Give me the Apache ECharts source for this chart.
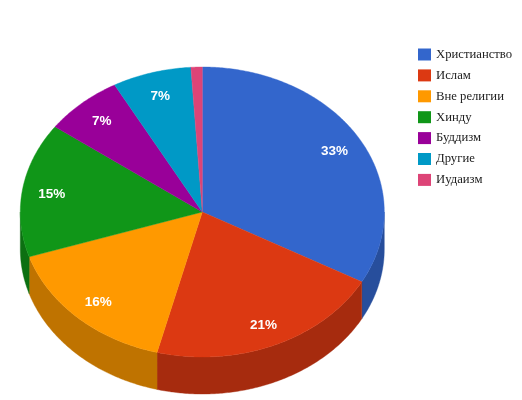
<!DOCTYPE html>
<html><head><meta charset="utf-8">
<style>html,body{margin:0;padding:0;background:#fff}#c{width:522px;height:400px}</style>
<script src="https://cdn.jsdelivr.net/npm/echarts@6/dist/echarts.min.js"></script>
</head><body><div id="c"></div>
<script>
const categories = ['Христианство','Ислам','Вне религии','Хинду','Буддизм','Другие','Иудаизм'];
const values = [33,21,16,15,7,7,1];
const colors = ['#3366cc','#dc3912','#ff9900','#109618','#990099','#0099c6','#dd4477'];
const sideColors = ['#274e9c','#a62b0e','#bf7300','#0c7012','#730073','#007395','#a63359'];

const CX = 202.3, CY = 212, RX = 182, RY = 145, DEPTH = 37, LABEL_R = 0.84, MIN_LABEL = 2;
const total = values.reduce((a,b)=>a+b,0);
const pt = (a, dy=0, k=1) => [CX + RX*k*Math.sin(a), CY - RY*k*Math.cos(a) + dy];
const arc = (a0, a1, dy=0) => {
  const n = Math.max(2, Math.ceil((a1-a0)/0.01)), out = [];
  for (let i=0;i<=n;i++) out.push(pt(a0+(a1-a0)*i/n, dy));
  return out;
};
function renderSlice(params) {
  const i = params.seriesIndex;
  const start = values.slice(0,i).reduce((a,b)=>a+b,0)/total*2*Math.PI;
  const end = start + values[i]/total*2*Math.PI;
  const children = [];
  const s0 = Math.max(start, Math.PI/2), s1 = Math.min(end, 3*Math.PI/2);
  if (s1 > s0) {
    const top = arc(s0, s1), bottom = arc(s0, s1, DEPTH).reverse();
    children.push({type:'polygon', shape:{points: top.concat(bottom)}, style:{fill: sideColors[i], stroke: sideColors[i], lineWidth: 0.4}});
  }
  children.push({type:'polygon', shape:{points:[[CX,CY]].concat(arc(start,end))}, style:{fill: colors[i], stroke: colors[i], lineWidth: 0.4}});
  if (values[i] >= MIN_LABEL) {
    const p = pt((start+end)/2, 1, LABEL_R);
    children.push({type:'text', x:p[0]+0.5, y:p[1], style:{text: values[i]+'%', fill:'#fff', font:'bold 13.5px "Liberation Sans", Arial, sans-serif', textAlign:'center', textVerticalAlign:'middle'}});
  }
  return {type:'group', children};
}
const chart = echarts.init(document.getElementById('c'), null, {renderer:'canvas'});
chart.setOption({
  animation:false,
  backgroundColor:'#fff',
  legend:{
    orient:'vertical', left:418, top:48, itemWidth:13, itemHeight:12, itemGap:7.9, padding:0, selectedMode:false,
    icon:'rect', data:categories,
    textStyle:{fontFamily:'"Liberation Serif", "Times New Roman", serif', fontSize:12.7, lineHeight:12, color:'#222', padding:[1,0,0,0]}
  },
  series: categories.map((name,i)=>({
    type:'custom', name, coordinateSystem:'none', silent:true,
    itemStyle:{color:colors[i]}, data:[values[i]], renderItem:renderSlice
  }))
});
</script></body></html>
